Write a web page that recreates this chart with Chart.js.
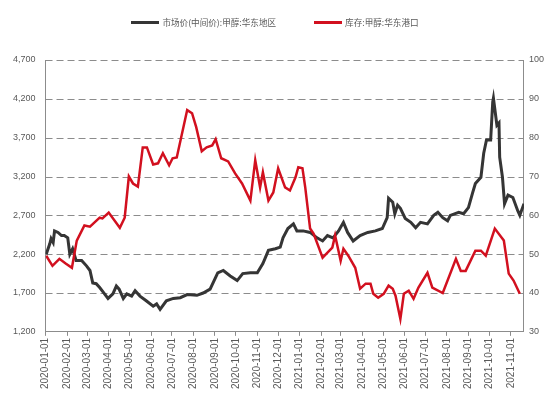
<!DOCTYPE html>
<html>
<head>
<meta charset="utf-8">
<script src="https://cdn.jsdelivr.net/npm/chart.js@4.4.0/dist/chart.umd.min.js"></script>
<style>
    html, body { margin: 0; padding: 0; background: #fff; }
    #wrap { position: relative; width: 550px; height: 397px; }
    #legend {
        position: absolute; left: 0; top: 16px; width: 550px;
        display: flex; justify-content: center; align-items: center;
        font: 8.6px "Noto Sans CJK SC", sans-serif; color: #595959;
    }
    .item { display: flex; align-items: center; margin: 0 19px; }
    .swatch { width: 28px; height: 3px; margin-right: 3px; }
</style>
</head>
<body>
<div id="wrap">
    <canvas id="chart" width="550" height="397"></canvas>
    <div id="legend"></div>
</div>
<script>
// =========================================
// DATA (x = days since 2020-01-01)
// =========================================

const priceLabel = '市场价(中间价):甲醇:华东地区';
const stockLabel = '库存:甲醇:华东港口';

const priceDays = [1, 6, 8, 11, 13, 18, 23, 27, 32, 35, 39, 44, 52, 59, 64, 68, 73, 78, 85, 90,
    97, 102, 106, 112, 117, 124, 129, 136, 145, 155, 160, 165, 174, 184, 194, 204, 218, 227, 237, 248,
    256, 266, 276, 284, 295, 305, 313, 321, 331, 338, 342, 349, 357, 362, 371, 381, 391, 399, 406, 414,
    422, 429, 435, 443, 453, 464, 475, 485, 492, 494, 500, 503, 507, 511, 518, 526, 533, 540, 550, 559,
    565, 572, 579, 583, 595, 602, 609, 615, 619, 627, 631, 635, 641, 644, 645, 650, 653, 654, 658, 661,
    666, 673, 680, 683, 689];
const priceValues = [2200, 2330, 2400, 2350, 2500, 2480, 2440, 2440, 2410, 2200, 2270, 2120, 2120, 2050, 1990, 1830, 1820, 1770, 1690, 1630,
    1690, 1790, 1750, 1630, 1690, 1660, 1730, 1660, 1600, 1530, 1560, 1490, 1600, 1630, 1640, 1680, 1670, 1700, 1750, 1960,
    1990, 1920, 1860, 1950, 1960, 1960, 2080, 2250, 2270, 2290, 2410, 2530, 2590, 2500, 2500, 2480, 2410, 2370, 2440, 2410,
    2500, 2610, 2480, 2370, 2440, 2480, 2500, 2530, 2670, 2920, 2870, 2720, 2830, 2790, 2660, 2610, 2540, 2610, 2590, 2700,
    2740, 2670, 2630, 2700, 2740, 2720, 2800, 2990, 3110, 3190, 3500, 3670, 3670, 4160, 4210, 3860, 3890, 3450, 3190, 2850,
    2960, 2930, 2760, 2700, 2850];

const stockDays = [1, 10, 20, 29, 38, 45, 56, 64, 78, 82, 91, 107, 114, 120, 126, 133, 140, 146, 155, 162,
    169, 178, 183, 189, 204, 211, 217, 225, 232, 240, 245, 253, 263, 273, 283, 295, 302, 309, 313, 321,
    328, 335, 345, 352, 360, 364, 370, 374, 381, 386, 399, 406, 413, 417, 425, 429, 436, 446, 453, 461,
    468, 472, 479, 487, 494, 500, 504, 511, 516, 523, 530, 537, 550, 557, 572, 591, 598, 605, 619, 627,
    634, 647, 660, 667, 674, 683];
const stockValues = [49.6, 47.0, 48.8, 47.6, 46.5, 53.5, 57.4, 57.1, 59.4, 59.2, 60.7, 56.8, 59.4, 70.0, 68.2, 67.4, 77.5, 77.5, 73.1, 73.4,
    76.0, 72.9, 74.7, 74.9, 87.1, 86.3, 82.7, 76.5, 77.5, 78.0, 79.6, 74.7, 73.9, 70.8, 68.2, 63.8, 74.2, 67.2, 71.1, 63.8,
    65.9, 72.1, 67.2, 66.4, 69.8, 72.4, 72.1, 67.2, 56.6, 55.3, 49.1, 50.4, 51.7, 54.8, 48.3, 51.4, 49.6, 46.5, 41.1, 42.4,
    42.4, 39.8, 38.8, 39.8, 41.9, 41.1, 39.3, 33.3, 39.8, 40.6, 38.5, 41.4, 45.2, 41.4, 40.0, 48.8, 45.7, 45.7, 50.9, 50.9,
    49.6, 56.6, 53.5, 45.0, 43.2, 39.8];

// month ticks 2020-01 .. 2021-11
const dayZero = Date.UTC(2020, 0, 1);
const monthTicks = [];
for (let i = 0; i < 23; i++) {
    monthTicks.push((Date.UTC(2020, i, 1) - dayZero) / 864e5);
}

const leftTicks = [1200, 1700, 2200, 2700, 3200, 3700, 4200, 4700];
const rightTicks = [30, 40, 50, 60, 70, 80, 90, 100];

const priceColor = '#353535';
const stockColor = '#d2101f';
const axisColor = '#8c8c8c';
const tickFont = { family: '"Liberation Sans", Arial, sans-serif', size: 9 };

function toPoints(days, values) {
    return days.map((d, i) => ({ x: d, y: values[i] }));
}

function dayToDate(d) {
    const dt = new Date(dayZero + d * 864e5);
    const m = String(dt.getUTCMonth() + 1).padStart(2, '0');
    const day = String(dt.getUTCDate()).padStart(2, '0');
    return `${dt.getUTCFullYear()}-${m}-${day}`;
}

// dashed horizontal grid lines, drawn behind the series
const dashedGrid = {
    id: 'dashedGrid',
    beforeDatasetsDraw(chart) {
        const { ctx, chartArea, scales } = chart;
        ctx.save();
        ctx.strokeStyle = axisColor;
        ctx.lineWidth = 1;
        ctx.setLineDash([7, 4]);
        leftTicks.forEach(v => {
            if (v === leftTicks[0]) return;
            const y = Math.round(scales.y.getPixelForValue(v)) + 0.5;
            ctx.beginPath();
            ctx.moveTo(chartArea.left, y);
            ctx.lineTo(chartArea.right, y);
            ctx.stroke();
        });
        ctx.restore();
    }
};

// =========================================
// CHART
// =========================================

const ctx = document.getElementById('chart').getContext('2d');
const chart = new Chart(ctx, {
    type: 'line',
    data: {
        datasets: [
            {
                label: priceLabel,
                data: toPoints(priceDays, priceValues),
                borderColor: priceColor,
                backgroundColor: priceColor,
                borderWidth: 3,
                pointRadius: 0,
                tension: 0,
                yAxisID: 'y',
                order: 1
            },
            {
                label: stockLabel,
                data: toPoints(stockDays, stockValues),
                borderColor: stockColor,
                backgroundColor: stockColor,
                borderWidth: 2.5,
                pointRadius: 0,
                tension: 0,
                yAxisID: 'y1',
                order: 0
            }
        ]
    },
    options: {
        responsive: false,
        animation: false,
        layout: { padding: { left: 3, right: 1, top: 60, bottom: 6 } },
        plugins: {
            legend: { display: false },
            tooltip: { enabled: false }
        },
        scales: {
            x: {
                type: 'linear',
                min: 0,
                max: priceDays[priceDays.length - 1],
                afterBuildTicks: (axis) => {
                    axis.ticks = monthTicks.map(v => ({ value: v }));
                },
                ticks: {
                    autoSkip: false,
                    maxRotation: 90,
                    minRotation: 90,
                    padding: 2,
                    color: '#595959',
                    font: { family: '"Liberation Sans", Arial, sans-serif', size: 10 },
                    callback: (v) => dayToDate(v)
                },
                grid: {
                    drawOnChartArea: false,
                    drawTicks: true,
                    tickLength: 4,
                    color: axisColor
                },
                border: { color: axisColor, width: 1 }
            },
            y: {
                position: 'left',
                min: 1200,
                max: 4700,
                afterBuildTicks: (axis) => {
                    axis.ticks = leftTicks.map(v => ({ value: v }));
                },
                ticks: {
                    padding: 10,
                    color: '#595959',
                    font: tickFont,
                    callback: (v) => v.toLocaleString('en-US')
                },
                grid: { drawOnChartArea: false, drawTicks: false },
                border: { color: axisColor, width: 1 }
            },
            y1: {
                position: 'right',
                min: 30,
                max: 100,
                afterBuildTicks: (axis) => {
                    axis.ticks = rightTicks.map(v => ({ value: v }));
                },
                ticks: {
                    padding: 5,
                    color: '#595959',
                    font: tickFont
                },
                grid: { drawOnChartArea: false, drawTicks: false },
                border: { color: axisColor, width: 1 }
            }
        }
    },
    plugins: [dashedGrid]
});

// =========================================
// LEGEND
// =========================================

const legend = document.getElementById('legend');
chart.data.datasets.forEach(ds => {
    const item = document.createElement('div');
    item.className = 'item';
    const sw = document.createElement('span');
    sw.className = 'swatch';
    sw.style.background = ds.borderColor;
    const txt = document.createElement('span');
    txt.textContent = ds.label;
    item.appendChild(sw);
    item.appendChild(txt);
    legend.appendChild(item);
});
</script>
</body>
</html>
